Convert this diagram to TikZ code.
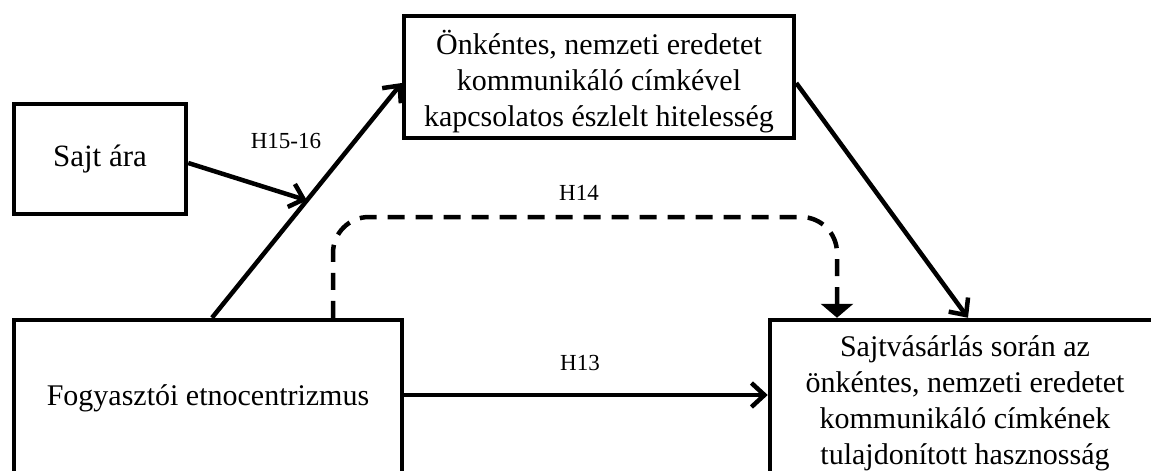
\documentclass[tikz,border=0pt]{standalone}
\usepackage{fontspec}
\setmainfont{Liberation Serif}
\usetikzlibrary{arrows.meta,calc}

\tikzset{
  box/.style={draw, line width=4.5pt, line join=miter, inner sep=0pt,
    align=center, font=\fontsize{30}{36}\selectfont},
  hlabel/.style={inner sep=0pt, font=\fontsize{23}{27}\selectfont},
  arr/.style={line width=4.5pt, -{Straight Barb[length=13pt,width=24pt]}},
  dasharr/.style={line width=4.5pt, dash pattern=on 17pt off 11pt,
    rounded corners=36pt, -{Triangle[length=14pt,width=32pt]}}
}

\begin{document}
\begin{tikzpicture}[x=1pt, y=-1pt]
  \useasboundingbox (0,0) rectangle (1151,471);

  % boxes
  \node[box, minimum width=172pt, minimum height=110pt] (price) at (100,159)
    {\fontsize{31}{36}\selectfont Sajt ára};
  \node[box, minimum width=390pt, minimum height=122pt] (auth) at (599,77)
    {\rule{0pt}{34pt}Önkéntes, nemzeti eredetet\\ kommunikáló címkével\\ kapcsolatos észlelt hitelesség};
  \node[box, minimum width=388pt, minimum height=156pt] (ethno) at (208,398)
    {Fogyasztói etnocentrizmus};
  \node[box, minimum width=390pt, minimum height=166pt] (util) at (965,403)
    {Sajtvásárlás során az\\ önkéntes, nemzeti eredetet\\ kommunikáló címkének\\ tulajdonított hasznosság};

  % solid connectors
  \coordinate (d0) at ([xshift=4pt]ethno.north);
  \coordinate (d1) at ([yshift=-6pt]auth.west);
  \draw[arr] (d0) -- (d1);
  \draw[arr] ([yshift=-4pt]price.east) -- ($(d0)!0.5!(d1)$);
  \draw[arr] ([yshift=-6pt]auth.east) -- ([xshift=3pt]util.north);
  \coordinate (e0) at ([yshift=3pt]ethno.east);
  \draw[arr] (e0) -- (e0 -| util.west);

  % dashed connector
  \coordinate (lvl) at (0,217);
  \coordinate (h0) at ([xshift=125pt]ethno.north);
  \coordinate (h1) at ([xshift=-128pt]util.north);
  \draw[dasharr] (h0) -- (h0 |- lvl) -- (h1 |- lvl) -- (h1);

  % hypothesis labels
  \node[hlabel] (h1516) at (286,141) {H15-16};
  \node[hlabel] (h14) at (579,193) {H14};
  \node[hlabel] (h13) at (580,363) {H13};
\end{tikzpicture}
\end{document}
